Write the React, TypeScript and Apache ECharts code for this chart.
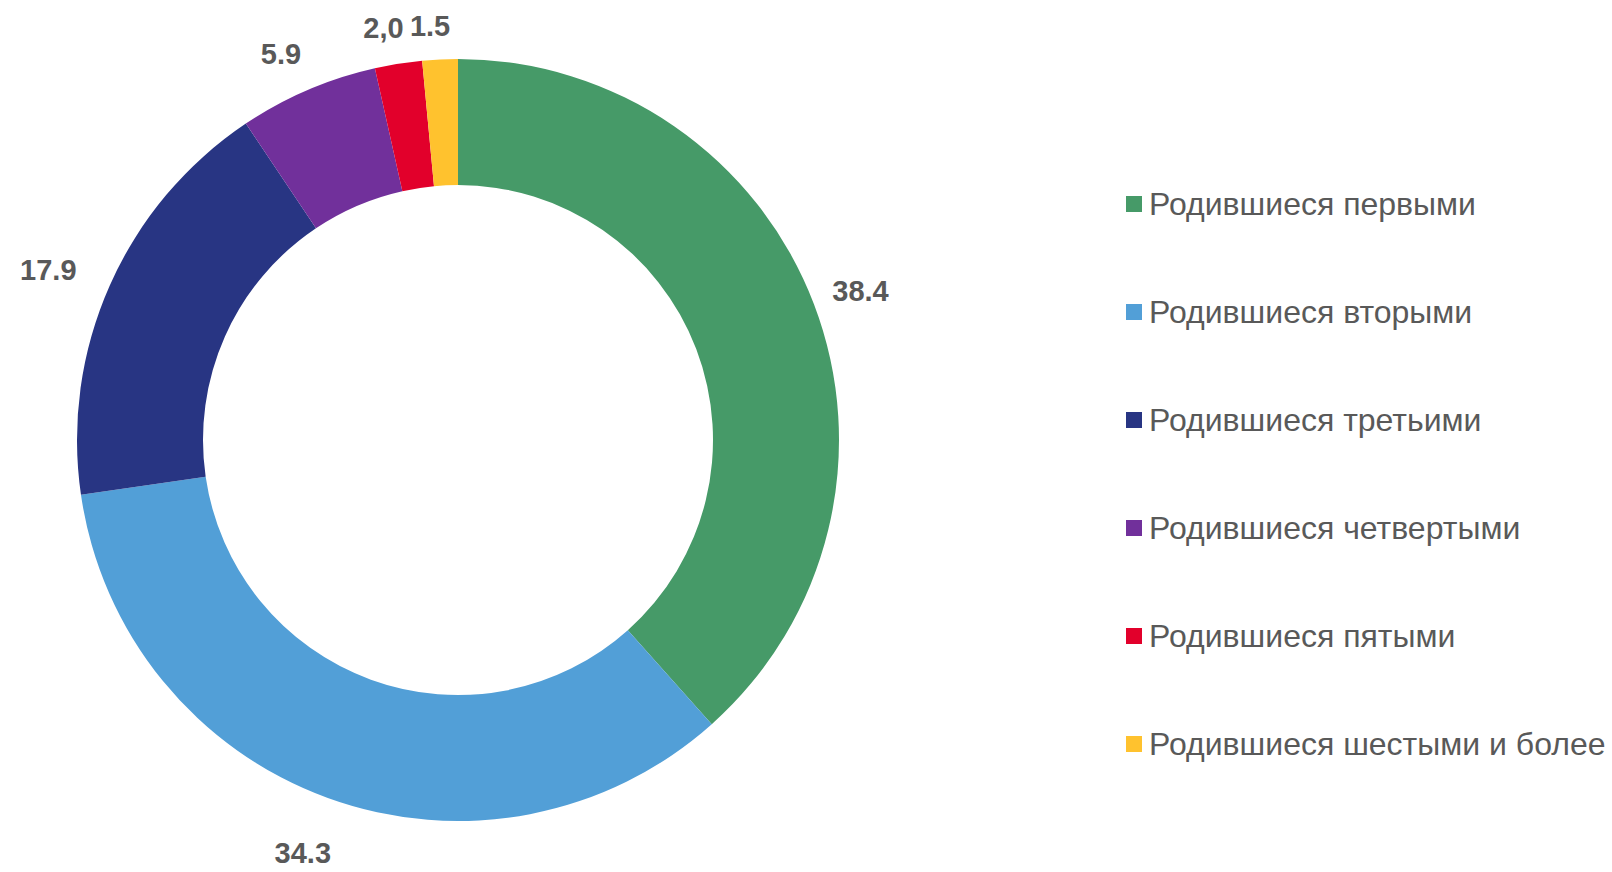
import React, { useEffect, useRef } from "react";
import * as echarts from "echarts";

const categories = [
  "Родившиеся первыми",
  "Родившиеся вторыми",
  "Родившиеся третьими",
  "Родившиеся четвертыми",
  "Родившиеся пятыми",
  "Родившиеся шестыми и более",
];
const values = [38.4, 34.3, 17.9, 5.9, 2.0, 1.5];
const valueLabels = ["38.4", "34.3", "17.9", "5.9", "2,0", "1.5"];
const colors = ["#469A68", "#529FD7", "#283583", "#71309B", "#E2002B", "#FFC22E"];

const FONT = "Liberation Sans, Arial, sans-serif";
const LABEL_SIZE = 29;

export default function App() {
  const ref = useRef<HTMLDivElement>(null);
  useEffect(() => {
    if (!ref.current) return;
    const chart = echarts.init(ref.current, undefined, { renderer: "svg" });

    const outerR = 381;
    const ringOuter = 479;
    const midR = (outerR + ringOuter) / 2;
    const anchorR = 405;
    const shiftX = -8;
    const shiftY = 8;
    const ctx = document.createElement("canvas").getContext("2d");
    if (ctx) ctx.font = `bold ${LABEL_SIZE}px ${FONT}`;
    const total = values.reduce((a, b) => a + b, 0);
    let cum = 0;
    const labelData = categories.map((name, i) => {
      const theta = ((cum + values[i] / 2) / total) * Math.PI * 2;
      cum += values[i];
      const sx = Math.sin(theta);
      const sy = -Math.cos(theta);
      const w = ctx ? ctx.measureText(valueLabels[i]).width : valueLabels[i].length * 15;
      const hw = w / 2;
      const hh = 14;
      const ext = hw * Math.abs(sx) + hh * Math.abs(sy);
      const d = anchorR + ext - midR;
      return {
        name,
        value: values[i],
        label: { offset: [d * sx + shiftX, d * sy + shiftY] },
      };
    });

    const data = categories.map((name, i) => ({
      name,
      value: values[i],
      itemStyle: { color: colors[i] },
    }));
    chart.setOption({
      animation: false,
      textStyle: { fontFamily: FONT },
      legend: {
        orient: "vertical",
        left: 1121,
        top: 183,
        itemWidth: 16,
        itemHeight: 16,
        itemGap: 76,
        icon: "rect",
        data: categories,
        textStyle: {
          fontSize: 32,
          lineHeight: 32,
          color: "#595959",
          fontFamily: FONT,
          padding: [0, 0, 0, 2],
        },
      },
      series: [
        {
          type: "pie",
          center: [458, 440],
          radius: [255, outerR],
          startAngle: 90,
          clockwise: true,
          label: { show: false },
          labelLine: { show: false },
          itemStyle: { borderWidth: 0 },
          emphasis: { disabled: true },
          data,
        },
        {
          type: "pie",
          center: [458, 440],
          radius: [outerR, ringOuter],
          startAngle: 90,
          clockwise: true,
          silent: true,
          avoidLabelOverlap: false,
          labelLine: { show: false },
          itemStyle: { color: "rgba(0,0,0,0)" },
          emphasis: { disabled: true },
          label: {
            show: true,
            position: "inside",
            rotate: 0,
            fontSize: LABEL_SIZE,
            fontWeight: "bold",
            color: "#595959",
            fontFamily: FONT,
            formatter: (p: any) => valueLabels[p.dataIndex],
          },
          data: labelData,
        },
      ],
    });
    return () => chart.dispose();
  }, []);
  return (
    <div
      ref={ref}
      style={{ position: "absolute", left: 0, top: 0, width: 1612, height: 872 }}
    />
  );
}
